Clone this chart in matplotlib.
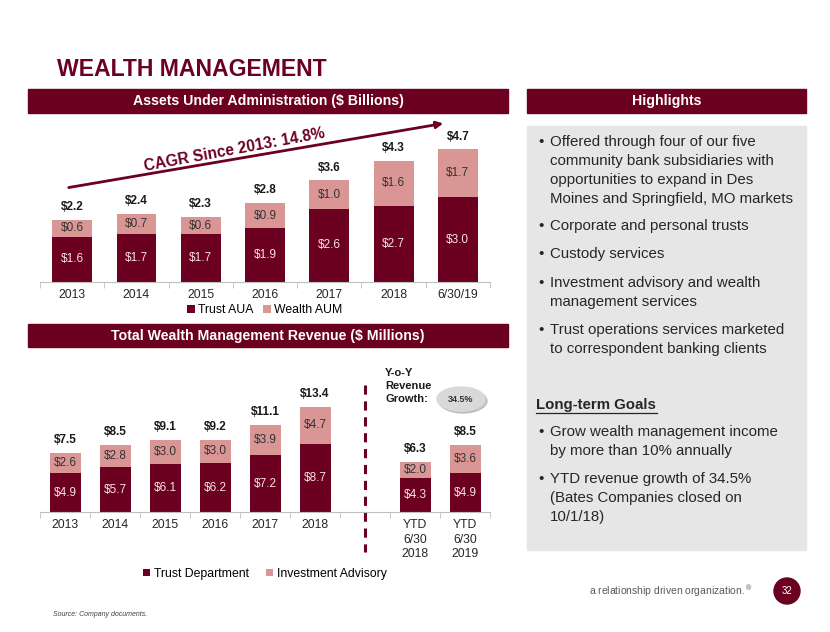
import matplotlib
matplotlib.use("Agg")
from matplotlib import pyplot as plt
from matplotlib.patches import Rectangle, Ellipse
from matplotlib.lines import Line2D
import numpy as np

plt.rcParams['font.family'] = ['Liberation Sans', 'DejaVu Sans']

# data
aua_labels = ['2013', '2014', '2015', '2016', '2017', '2018', '6/30/19']
trust_aua = [1.6, 1.7, 1.7, 1.9, 2.6, 2.7, 3.0]
wealth_aum = [0.6, 0.7, 0.6, 0.9, 1.0, 1.6, 1.7]
total_aua = [2.2, 2.4, 2.3, 2.8, 3.6, 4.3, 4.7]

rev_labels = ['2013', '2014', '2015', '2016', '2017', '2018', 'YTD\n6/30\n2018', 'YTD\n6/30\n2019']
rev_pos = [0, 1, 2, 3, 4, 5, 7, 8]
trust_dept = [4.9, 5.7, 6.1, 6.2, 7.2, 8.7, 4.3, 4.9]
inv_adv = [2.6, 2.8, 3.0, 3.0, 3.9, 4.7, 2.0, 3.6]
total_rev = [7.5, 8.5, 9.1, 9.2, 11.1, 13.4, 6.3, 8.5]

highlights = [
    "Offered through four of our five\ncommunity bank subsidiaries with\nopportunities to expand in Des\nMoines and Springfield, MO markets",
    "Corporate and personal trusts",
    "Custody services",
    "Investment advisory and wealth\nmanagement services",
    "Trust operations services marketed\nto correspondent banking clients",
]
goals = [
    "Grow wealth management income\nby more than 10% annually",
    "YTD revenue growth of 34.5%\n(Bates Companies closed on\n10/1/18)",
]

MAROON = '#6b0020'
PINK = '#d99694'
W, H = 830, 632

fig = plt.figure(figsize=(8.3, 6.32), dpi=100)

def fx(px):
    return px / W

def fy(py):
    return 1 - py / H

def rect(l, t, r, b):
    return [fx(l), fy(b), (r - l) / W, (b - t) / H]

def bar_header(l, t, r, b, text):
    fig.add_artist(Rectangle((fx(l), fy(b)), (r - l) / W, (b - t) / H,
                             transform=fig.transFigure, color=MAROON, zorder=1))
    fig.text(fx((l + r) / 2), fy((t + b) / 2), text, color='white', fontsize=10.2,
             fontweight='bold', ha='center', va='center', zorder=2)

fig.text(fx(57), fy(70), 'WEALTH MANAGEMENT', color=MAROON, fontsize=16.6,
         fontweight='bold', ha='left', va='center')

bar_header(28, 89, 508, 113, 'Assets Under Administration ($ Billions)')
bar_header(28, 324, 508, 347, 'Total Wealth Management Revenue ($ Millions)')
bar_header(527, 89, 806, 113, 'Highlights')


def style_axes(ax, n):
    for s in ['top', 'right', 'left']:
        ax.spines[s].set_visible(False)
    ax.spines['bottom'].set_color('#bfbfbf')
    ax.set_yticks([])
    ax.set_xticks(np.arange(-0.5, n + 0.5, 1), minor=True)
    ax.tick_params(axis='x', which='minor', length=4, color='#bfbfbf')
    ax.tick_params(axis='x', which='major', length=0, labelsize=8.8, pad=5,
                   labelcolor='#262626')
    ax.set_facecolor('none')


# top chart
ax1 = fig.add_axes(rect(40, 130, 490, 282))
x1 = np.arange(len(aua_labels))
ax1.bar(x1, trust_aua, width=0.62, color=MAROON, label='Trust AUA')
ax1.bar(x1, wealth_aum, width=0.62, bottom=trust_aua, color=PINK, label='Wealth AUM')
ax1.set_xlim(-0.5, 6.5)
ax1.set_ylim(0, 152 / 28.2)
style_axes(ax1, len(aua_labels))
ax1.set_xticks(x1)
ax1.set_xticklabels(aua_labels)
for i in range(len(x1)):
    ax1.text(x1[i], trust_aua[i] / 2, '$%.1f' % trust_aua[i], ha='center', va='center',
             color='#f7e4e4', fontsize=8.5)
    ax1.text(x1[i], trust_aua[i] + wealth_aum[i] / 2, '$%.1f' % wealth_aum[i],
             ha='center', va='center', color='#333333', fontsize=8.5)
    ax1.annotate('$%.1f' % total_aua[i], (x1[i], total_aua[i]), xytext=(0, 5),
                 textcoords='offset points', ha='center', va='bottom',
                 fontweight='bold', fontsize=8.5, color='#1a1a1a')
ax1.legend(loc='upper center', bbox_to_anchor=(0.5, -0.115), ncol=2, frameon=False,
           fontsize=8.8, handlelength=0.6, handleheight=0.6, columnspacing=0.8,
           handletextpad=0.3, borderaxespad=0)

# CAGR arrow
fig.add_artist(matplotlib.patches.FancyArrowPatch((fx(66), fy(188)), (fx(446), fy(123)),
               transform=fig.transFigure, arrowstyle='-|>', mutation_scale=10,
               color=MAROON, lw=2))
fig.text(fx(234), fy(150), 'CAGR Since 2013: 14.8%', color=MAROON, fontsize=11.2,
         fontweight='bold', ha='center', va='center', rotation=10.5,
         rotation_mode='anchor')

# bottom chart
ax2 = fig.add_axes(rect(40, 360, 490, 512))
ax2.bar(rev_pos, trust_dept, width=0.62, color=MAROON, label='Trust Department')
ax2.bar(rev_pos, inv_adv, width=0.62, bottom=trust_dept, color=PINK, label='Investment Advisory')
ax2.set_xlim(-0.5, 8.5)
ax2.set_ylim(0, 152 / 7.87)
style_axes(ax2, 9)
ax2.set_xticks(rev_pos)
ax2.set_xticklabels(rev_labels, linespacing=1.3)
for i in range(len(rev_pos)):
    ax2.text(rev_pos[i], trust_dept[i] / 2, '$%.1f' % trust_dept[i], ha='center',
             va='center', color='#f7e4e4', fontsize=8.5)
    ax2.text(rev_pos[i], trust_dept[i] + inv_adv[i] / 2, '$%.1f' % inv_adv[i],
             ha='center', va='center', color='#333333', fontsize=8.5)
    ax2.annotate('$%.1f' % total_rev[i], (rev_pos[i], total_rev[i]), xytext=(0, 5),
                 textcoords='offset points', ha='center', va='bottom',
                 fontweight='bold', fontsize=8.5, color='#1a1a1a')
ax2.plot([6, 6], [16.1, -5.1], color=MAROON, lw=2.2, ls=(0, (3, 2.2)), clip_on=False)
ax2.legend(loc='upper center', bbox_to_anchor=(0.5, -0.335), ncol=2, frameon=False,
           fontsize=8.8, handlelength=0.6, handleheight=0.6, columnspacing=1.4,
           handletextpad=0.3, borderaxespad=0)

fig.text(fx(385), fy(386), 'Y-o-Y\nRevenue\nGrowth:', fontsize=8, fontweight='bold',
         ha='left', va='center', linespacing=1.35, color='#1a1a1a')
fig.add_artist(Ellipse((fx(463), fy(401)), 48 / W, 24 / H, transform=fig.transFigure,
                       color='#a6a6a6', alpha=0.6, zorder=1))
fig.add_artist(Ellipse((fx(461), fy(399)), 48 / W, 24 / H, transform=fig.transFigure,
                       color='#d9d9d9', zorder=2))
fig.text(fx(461), fy(399), '34.5%', fontsize=6.5, fontweight='bold', ha='center',
         va='center', color='#333333', zorder=3)

# highlights panel
fig.add_artist(Rectangle((fx(527), fy(550)), 279 / W, 424 / H, transform=fig.transFigure,
                         color='#e6e6e6', zorder=0))
tops = [135, 219, 247, 276, 323]
for t, txt in zip(tops, highlights):
    fig.text(fx(538), fy(t), '•', fontsize=10.8, ha='left', va='top', color='#262626')
    fig.text(fx(550), fy(t), txt, fontsize=10.8, ha='left', va='top', color='#262626',
             linespacing=1.44)
fig.text(fx(536), fy(405), 'Long-term Goals', fontsize=10.8, fontweight='bold',
         ha='left', va='center', color='#262626')
fig.add_artist(Line2D([fx(536), fx(657)], [fy(413), fy(413)], transform=fig.transFigure,
                      color='#262626', lw=0.9))
for t, txt in zip([425, 472], goals):
    fig.text(fx(538), fy(t), '•', fontsize=10.8, ha='left', va='top', color='#262626')
    fig.text(fx(550), fy(t), txt, fontsize=10.8, ha='left', va='top', color='#262626',
             linespacing=1.44)

# footer
fig.text(fx(752), fy(591), 'a relationship driven organization.$^{®}$', fontsize=7.5,
         ha='right', va='center', color='#595959')
fig.add_artist(Ellipse((fx(787), fy(591)), 26 / W, 26 / H, transform=fig.transFigure,
                       color=MAROON))
fig.text(fx(787), fy(591), '32', fontsize=7, ha='center', va='center', color='white')
fig.text(fx(53), fy(614), 'Source: Company documents.', fontsize=5, style='italic',
         ha='left', va='center', color='#404040')

fig.savefig('out.png', dpi=100)
